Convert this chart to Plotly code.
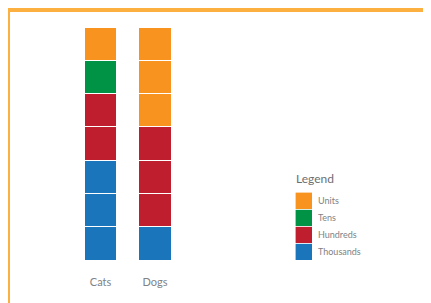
import plotly.graph_objects as go

categories = ["Cats", "Dogs"]
series_names = ["Thousands", "Hundreds", "Tens", "Units"]
thousands = [3, 1]
hundreds = [2, 3]
tens = [1, 0]
units = [1, 3]
colors = {"Thousands": "#1B75BB", "Hundreds": "#BE1E2D", "Tens": "#009245", "Units": "#F7931E"}
legend_title = "Legend"

W, H = 431, 303
OFF = 8  # page body margin offset
values = {"Thousands": thousands, "Hundreds": hundreds, "Tens": tens, "Units": units}

fig = go.Figure()
# main stacked columns, one unit block per trace
for name in series_names:
    vals = values[name]
    for k in range(max(vals)):
        fig.add_trace(go.Bar(
            x=categories, y=[1 if v > k else 0 for v in vals],
            marker=dict(color=colors[name], line=dict(color="white", width=1)),
            width=0.6, showlegend=False, hoverinfo="skip",
            xaxis="x", yaxis="y"))

# legend swatches drawn as a small stacked chart on secondary axes
for name in series_names:
    fig.add_trace(go.Bar(
        y=[name], x=[1], orientation="h", width=1,
        marker=dict(color=colors[name], line=dict(color="white", width=0.6)),
        showlegend=False, hoverinfo="skip", xaxis="x2", yaxis="y2"))

gray = "#808285"
def px_x(p):
    return (p - OFF) / W
def px_y(p):
    return 1 - (p - OFF) / H

fig.update_layout(
    width=W, height=H, autosize=False,
    margin=dict(l=0, r=0, t=0, b=0),
    paper_bgcolor="white", plot_bgcolor="white",
    barmode="stack", showlegend=False,
    font=dict(family="Lato, Open Sans, sans-serif", color=gray),
    xaxis=dict(domain=[px_x(73.25), px_x(182.25)], range=[-0.5, 1.5],
               showgrid=False, zeroline=False, showline=False,
               ticks="outside", ticklen=12, tickcolor="white",
               tickfont=dict(size=11, color=gray), anchor="y"),
    yaxis=dict(domain=[px_y(260), px_y(27)], range=[0, 7], visible=False, anchor="x"),
    xaxis2=dict(domain=[px_x(295), px_x(312)], range=[0, 1], visible=False, anchor="y2"),
    yaxis2=dict(domain=[px_y(260), px_y(192)], range=[-0.5, 3.5], anchor="x2",
                side="right", showgrid=False, zeroline=False, showline=False,
                ticks="", ticklabelstandoff=5,
                categoryorder="array", categoryarray=series_names,
                tickfont=dict(size=9, color=gray)),
    annotations=[dict(text=legend_title, x=px_x(294), y=px_y(178), xref="paper", yref="paper",
                      xanchor="left", yanchor="middle", showarrow=False,
                      font=dict(size=12, color="#6D6E71"))],
    shapes=[
        dict(type="rect", xref="paper", yref="paper", x0=0, x1=1.0,
             y0=px_y(12), y1=px_y(8), line=dict(width=0), fillcolor="#FBB040"),
        dict(type="rect", xref="paper", yref="paper", x0=0, x1=px_x(10),
             y0=0, y1=px_y(8), line=dict(width=0), fillcolor="#FBB040"),
    ],
)

fig.write_html("out.html")
